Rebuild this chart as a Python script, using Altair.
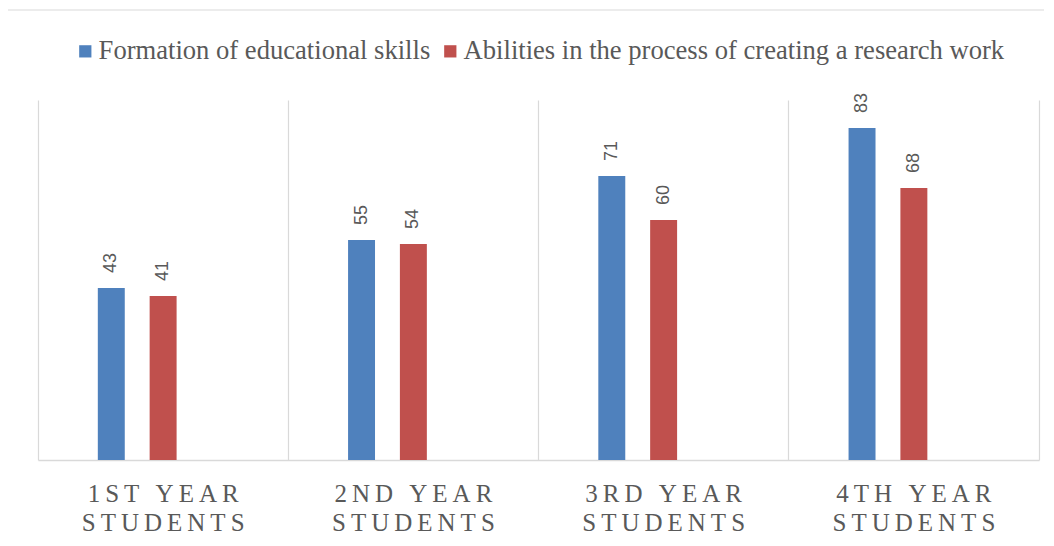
import altair as alt
import pandas as pd

categories = ["1ST YEAR STUDENTS", "2ND YEAR STUDENTS", "3RD YEAR STUDENTS", "4TH YEAR STUDENTS"]
series_names = ["Formation of educational skills", "Abilities in the process of creating a research work"]
formation = [43, 55, 71, 83]
abilities = [41, 54, 60, 68]
colors = ["#4F81BD", "#C0504D"]

rows = []
for c, a, b in zip(categories, formation, abilities):
    rows.append({"cat": c, "series": series_names[0], "value": a})
    rows.append({"cat": c, "series": series_names[1], "value": b})
df = pd.DataFrame(rows)

gray = "#595959"
grid = "#d9d9d9"

x = alt.X("cat:N", sort=categories,
          scale=alt.Scale(paddingInner=0, paddingOuter=0),
          axis=alt.Axis(title=None, labelAngle=0, ticks=False, grid=True, gridColor=grid,
                        gridWidth=1.2, bandPosition=0,
                        domainColor=grid, domainWidth=1.5,
                        labelFont="Liberation Serif", labelFontSize=25, labelColor=gray,
                        labelPadding=21, labelLineHeight=29,
                        labelExpr="[join(split(replace(datum.label, ' STUDENTS', ''), ''), '\u2009'), join(split('STUDENTS', ''), '\u2009')]"))
xo = alt.XOffset("series:N",
                 scale=alt.Scale(domain=["_a"] + series_names + ["_b", "_c"],
                                 paddingInner=0.48, paddingOuter=0.154))
y = alt.Y("value:Q", scale=alt.Scale(domain=[0, 90]),
          axis=alt.Axis(orient="right", title=None, labels=False, ticks=False, grid=False,
                        domain=True, domainColor=grid, domainWidth=1.2))

base = alt.Chart(df)
bars = base.mark_bar().encode(
    x=x, xOffset=xo, y=y,
    color=alt.Color("series:N", scale=alt.Scale(domain=series_names, range=colors),
                    legend=alt.Legend(title=None, orient="none", legendX=34, legendY=-62,
                                      direction="horizontal", symbolType="square",
                                      symbolSize=150, symbolStrokeWidth=0,
                                      labelFont="Liberation Serif", labelFontSize=26.6,
                                      labelColor=gray, labelOffset=0, columnPadding=6,
                                      labelLimit=800)),
)
labels = base.mark_text(angle=270, align="left", baseline="middle", dx=15,
                        font="Liberation Sans", fontSize=18, color=gray).encode(
    x=x, xOffset=xo, y=y, text="value:Q")

border_df = pd.DataFrame({"k": [0]})
border_left = alt.Chart(border_df).mark_rule(color=grid, strokeWidth=1.2).encode(
    x=alt.value(-34), y=alt.value(-90), y2=alt.value(460))
border_top = alt.Chart(border_df).mark_rule(color=grid, strokeWidth=1.2).encode(
    x=alt.value(-34), x2=alt.value(1020), y=alt.value(-90))

chart = alt.layer(bars, labels, border_left, border_top).properties(
    width=1001, height=360,
    autosize=alt.AutoSizeParams(type="none"),
    padding={"left": 30, "top": 92, "right": 5, "bottom": 86},
).configure_view(stroke=None)

chart.save("out.html", embed_options={"renderer": "svg", "actions": False})
